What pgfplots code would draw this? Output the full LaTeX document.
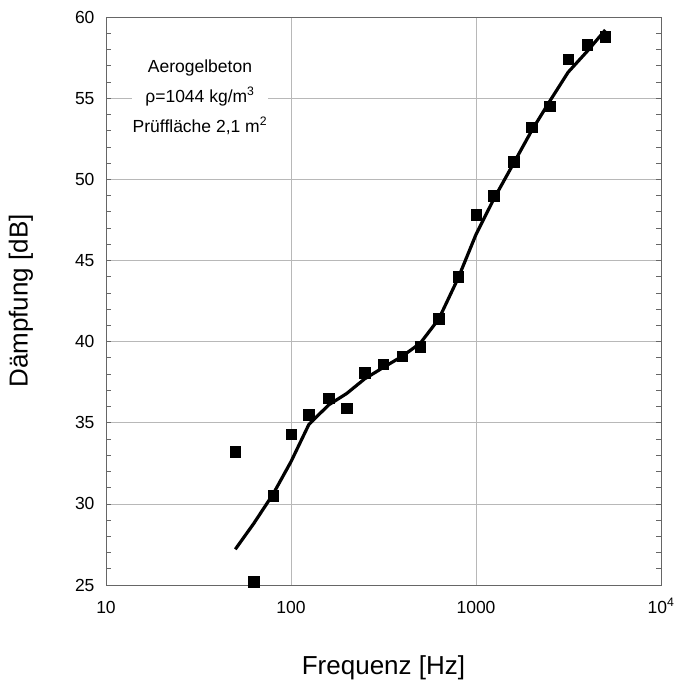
\documentclass[border=0pt]{standalone}
\usepackage{pgfplots}
\pgfplotsset{compat=1.18}
\usepackage{fontspec}
\setmainfont{Liberation Sans}
\definecolor{gridc}{gray}{0.72}
\definecolor{axc}{gray}{0.4}
\begin{document}
\begin{tikzpicture}
\useasboundingbox (-106pt,-99pt) rectangle (570pt,585pt);
\begin{axis}[
  at={(0,0)}, anchor=south west,
  scale only axis, width=555pt, height=568pt,
  xmode=log, xmin=10, xmax=10000, ymin=25, ymax=60,
  xtick={10,100,1000,10000},
  xticklabels={10,100,1000,{10\textsuperscript{4}}},
  ytick={25,30,...,60},
  minor ytick={26,27,...,59},
  log basis x=10,
  /pgf/number format/assume math mode=true,
  tick label style={font=\fontsize{17.5}{20}\selectfont},
  xticklabel style={anchor=base, yshift=-28pt},
  yticklabel style={xshift=-8pt},
  tick align=inside,
  major tick length=0pt, minor tick length=5pt,
  tick style={axc, line width=0.6pt},
  axis line style={axc, line width=0.8pt},
  xmajorgrids, ymajorgrids,
  major grid style={gridc, line width=0.6pt},
  xlabel={Frequenz [Hz]}, ylabel={Dämpfung [dB]},
  label style={font=\fontsize{26}{30}\selectfont},
  xlabel style={at={(axis description cs:0.5,0)}, anchor=center, yshift=-83pt},
  ylabel style={at={(axis description cs:0,0.5)}, anchor=center, yshift=85pt},
  clip=false,
]
\addplot[black, line width=3.2pt, line join=round] coordinates {
 (50,27.2) (63,28.8) (80,30.6) (100,32.6) (125,34.9) (160,36.1) (200,36.8)
 (250,37.7) (315,38.4) (400,39.1) (500,39.9) (630,41.4) (800,43.9)
 (1000,46.6) (1250,48.8) (1600,51.0) (2000,53.0) (2500,54.8) (3150,56.6)
 (4000,57.9) (5000,59.2)
};
\addplot[only marks, mark=square*, mark size=5.3pt, black] coordinates {
 (50,33.2) (63,25.2) (80,30.5) (100,34.3) (125,35.5) (160,36.5) (200,35.9)
 (250,38.1) (315,38.6) (400,39.1) (500,39.7) (630,41.4) (800,44.0)
 (1000,47.8) (1250,49.0) (1600,51.1) (2000,53.2) (2500,54.5) (3150,57.4)
 (4000,58.3) (5000,58.8)
};
\node[fill=white, inner xsep=1pt, inner ysep=2pt, align=center,
      font=\fontsize{17.5}{30}\selectfont] at (axis cs:32.2,55.07)
  {Aerogelbeton\\ ρ=1044 kg/m\textsuperscript{3}\\ Prüffläche 2,1 m\textsuperscript{2}};
\end{axis}
\end{tikzpicture}
\end{document}
